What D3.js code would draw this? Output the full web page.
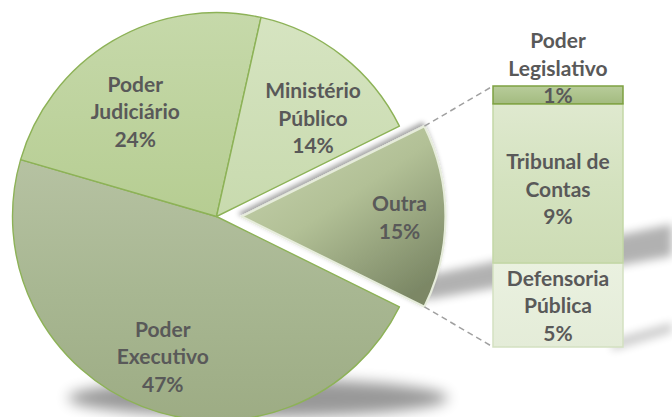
<!DOCTYPE html>
<html><head><meta charset="utf-8">
<script src="https://cdn.jsdelivr.net/npm/d3@7"></script>
<style>
body{margin:0;background:#fff;}
text{font-family:Lato,"Open Sans",sans-serif;font-weight:700;fill:#595959;}
</style>
</head><body>
<svg id="c" width="672" height="417"></svg>
<script>
// ---- data ----
const mainCategories = ["Poder Executivo", "Poder Judiciário", "Ministério Público"];
const mainValues = [47.2, 24.0, 14.2];
const otherCategory = "Outra";
const subCategories = ["Poder Legislativo", "Tribunal de Contas", "Defensoria Pública"];
const subValues = [1.0, 8.9, 4.7];

// ---- layout ----
const W = 672, H = 417;
const cx = 216.5, cy = 216.5, R = 204, explode = 25;
const barX0 = 493, barX1 = 623, barTop = 86, barBottom = 347;
const fontSize = 21, lineH = 27.5;

const pieCategories = [otherCategory, ...mainCategories];
const pieValues = [d3.sum(subValues), ...mainValues];
const total = d3.sum(pieValues);
const pct = v => Math.round(v / total * 100) + "%";
const splitName = s => { const i = s.lastIndexOf(" "); return i < 0 ? [s] : [s.slice(0, i), s.slice(i + 1)]; };

const fills = {
  "Outra": "gOutra", "Poder Executivo": "gExec", "Poder Judiciário": "gJud", "Ministério Público": "gMin",
  "Poder Legislativo": "gLeg", "Tribunal de Contas": "gTrib", "Defensoria Pública": "gDef"
};
const nudges = {
  "Outra": [18, 0], "Poder Executivo": [-3, 9], "Poder Judiciário": [-10, 15], "Ministério Público": [10, 11],
  "Tribunal de Contas": [0, 5], "Defensoria Pública": [0, 0]
};

const svg = d3.select("#c");
const defs = svg.append("defs");
function lin(id, stops, x2 = 0, y2 = 1) {
  const g = defs.append("linearGradient").attr("id", id)
    .attr("x1", 0).attr("y1", 0).attr("x2", x2).attr("y2", y2);
  stops.forEach((c, i) => g.append("stop").attr("offset", i / (stops.length - 1)).attr("stop-color", c));
}
lin("gExec", ["#b6c2a2", "#a8b792", "#9dac84"]);
lin("gJud", ["#c6d9aa", "#b6cd92"]);
lin("gMin", ["#d6e4c1", "#c8daae"]);
lin("gOutra", ["#cad6b2", "#b2c096", "#7b8765"], 0.75, 1);
lin("gLeg", ["#b8cc9a", "#a3bb80"]);
lin("gTrib", ["#dfe9cf", "#d4e2bf", "#cddcb5"]);
lin("gDef", ["#eaf1e0", "#e4ecd8"]);

const blur = (id, s) => defs.append("filter").attr("id", id)
  .attr("x", "-50%").attr("y", "-50%").attr("width", "200%").attr("height", "200%")
  .append("feGaussianBlur").attr("stdDeviation", s);
blur("b7", 7); blur("b5", 5); blur("b4", 4);
const ds = defs.append("filter").attr("id", "ds").attr("x", "-20%").attr("y", "-20%").attr("width", "140%").attr("height", "140%");
ds.append("feDropShadow").attr("dx", -2).attr("dy", -3).attr("stdDeviation", 2.5)
  .attr("flood-color", "#000").attr("flood-opacity", 0.35);

// ---- shadows ----
const sh = svg.append("g").attr("class", "shadows");
sh.append("ellipse").attr("cx", 258).attr("cy", 398).attr("rx", 190).attr("ry", 19)
  .attr("fill", "#000").attr("opacity", 0.4).attr("filter", "url(#b7)");
sh.append("path").attr("d", "M425,276 L672,224 L672,256 L425,300 Z")
  .attr("fill", "#000").attr("opacity", 0.3).attr("filter", "url(#b5)");
sh.append("path").attr("d", "M612,339 L672,322 L672,333 L612,351 Z")
  .attr("fill", "#000").attr("opacity", 0.18).attr("filter", "url(#b4)");

// ---- pie ----
const outraFrac = pieValues[0] / total;
const start = Math.PI / 2 - outraFrac * Math.PI;
const pie = d3.pie().sort(null).startAngle(start).endAngle(start + 2 * Math.PI);
const arcs = pie(pieValues).map((a, i) => ({ ...a, name: pieCategories[i] }));
const arc = d3.arc().innerRadius(0).outerRadius(R);
const labelArc = d3.arc().innerRadius(140).outerRadius(140);

const pg = svg.append("g");
arcs.forEach(a => {
  const isOther = a.name === otherCategory;
  const dx = isOther ? explode : 0;
  const g = pg.append("g").attr("transform", `translate(${cx + dx},${cy})`);
  g.append("path").attr("d", arc(a))
    .attr("fill", `url(#${fills[a.name]})`)
    .attr("stroke", isOther ? "#e6ecdb" : "#8db257")
    .attr("stroke-width", isOther ? 2.2 : 1.4)
    .attr("stroke-linejoin", "round")
    .attr("filter", isOther ? "url(#ds)" : null);
});

// ---- connector lines ----
const oa = arcs[0];
const ocx = cx + explode;
const pTop = [ocx + R * Math.sin(oa.startAngle), cy - R * Math.cos(oa.startAngle)];
const pBot = [ocx + R * Math.sin(oa.endAngle), cy - R * Math.cos(oa.endAngle)];

// ---- bar ----
const y = d3.scaleLinear().domain([0, d3.sum(subValues)]).range([barTop, barBottom]);
const cum = d3.cumsum([0, ...subValues]);
const segs = subCategories.map((n, i) => ({ name: n, v: subValues[i], y0: y(cum[i]), y1: y(cum[i + 1]) }));

svg.append("g").selectAll("line").data([[pTop, [barX0, y(0)]], [pBot, [barX0, y(d3.sum(subValues))]]])
  .join("line")
  .attr("x1", d => d[0][0]).attr("y1", d => d[0][1]).attr("x2", d => d[1][0]).attr("y2", d => d[1][1])
  .attr("stroke", "#a0a0a0").attr("stroke-width", 1.5).attr("stroke-dasharray", "6,4");

const bg = svg.append("g");
const segStroke = { "Poder Legislativo": "#7ea141", "Tribunal de Contas": "#c3d7a6", "Defensoria Pública": "#d3e1c1" };
segs.slice().reverse().forEach(s => {
  bg.append("rect").attr("x", barX0).attr("y", s.y0).attr("width", barX1 - barX0).attr("height", s.y1 - s.y0)
    .attr("fill", `url(#${fills[s.name]})`).attr("stroke", segStroke[s.name]).attr("stroke-width", 1.5);
});

// ---- labels ----
function label(x, yc, lines, anchorLast) {
  const n = lines.length;
  const t = svg.append("text").attr("text-anchor", "middle").attr("font-size", fontSize);
  lines.forEach((ln, i) => {
    const off = anchorLast ? (i - (n - 1)) * lineH : (i - (n - 1) / 2) * lineH;
    t.append("tspan").attr("x", x).attr("y", yc + off).attr("dominant-baseline", "central").text(ln);
  });
}
arcs.forEach(a => {
  const isOther = a.name === otherCategory;
  const c = labelArc.centroid(a);
  const nd = nudges[a.name];
  const lines = isOther ? [a.name] : splitName(a.name);
  label(cx + (isOther ? explode : 0) + c[0] + nd[0], cy + c[1] + nd[1], [...lines, pct(a.value)], false);
});
const barMid = (barX0 + barX1) / 2;
segs.forEach((s, i) => {
  const lines = [...splitName(s.name), pct(s.v)];
  if (i === 0) {
    label(barMid, (s.y0 + s.y1) / 2, lines, true);
  } else {
    const nd = nudges[s.name];
    label(barMid + nd[0], (s.y0 + s.y1) / 2 + nd[1], lines, false);
  }
});
</script>
</body></html>
